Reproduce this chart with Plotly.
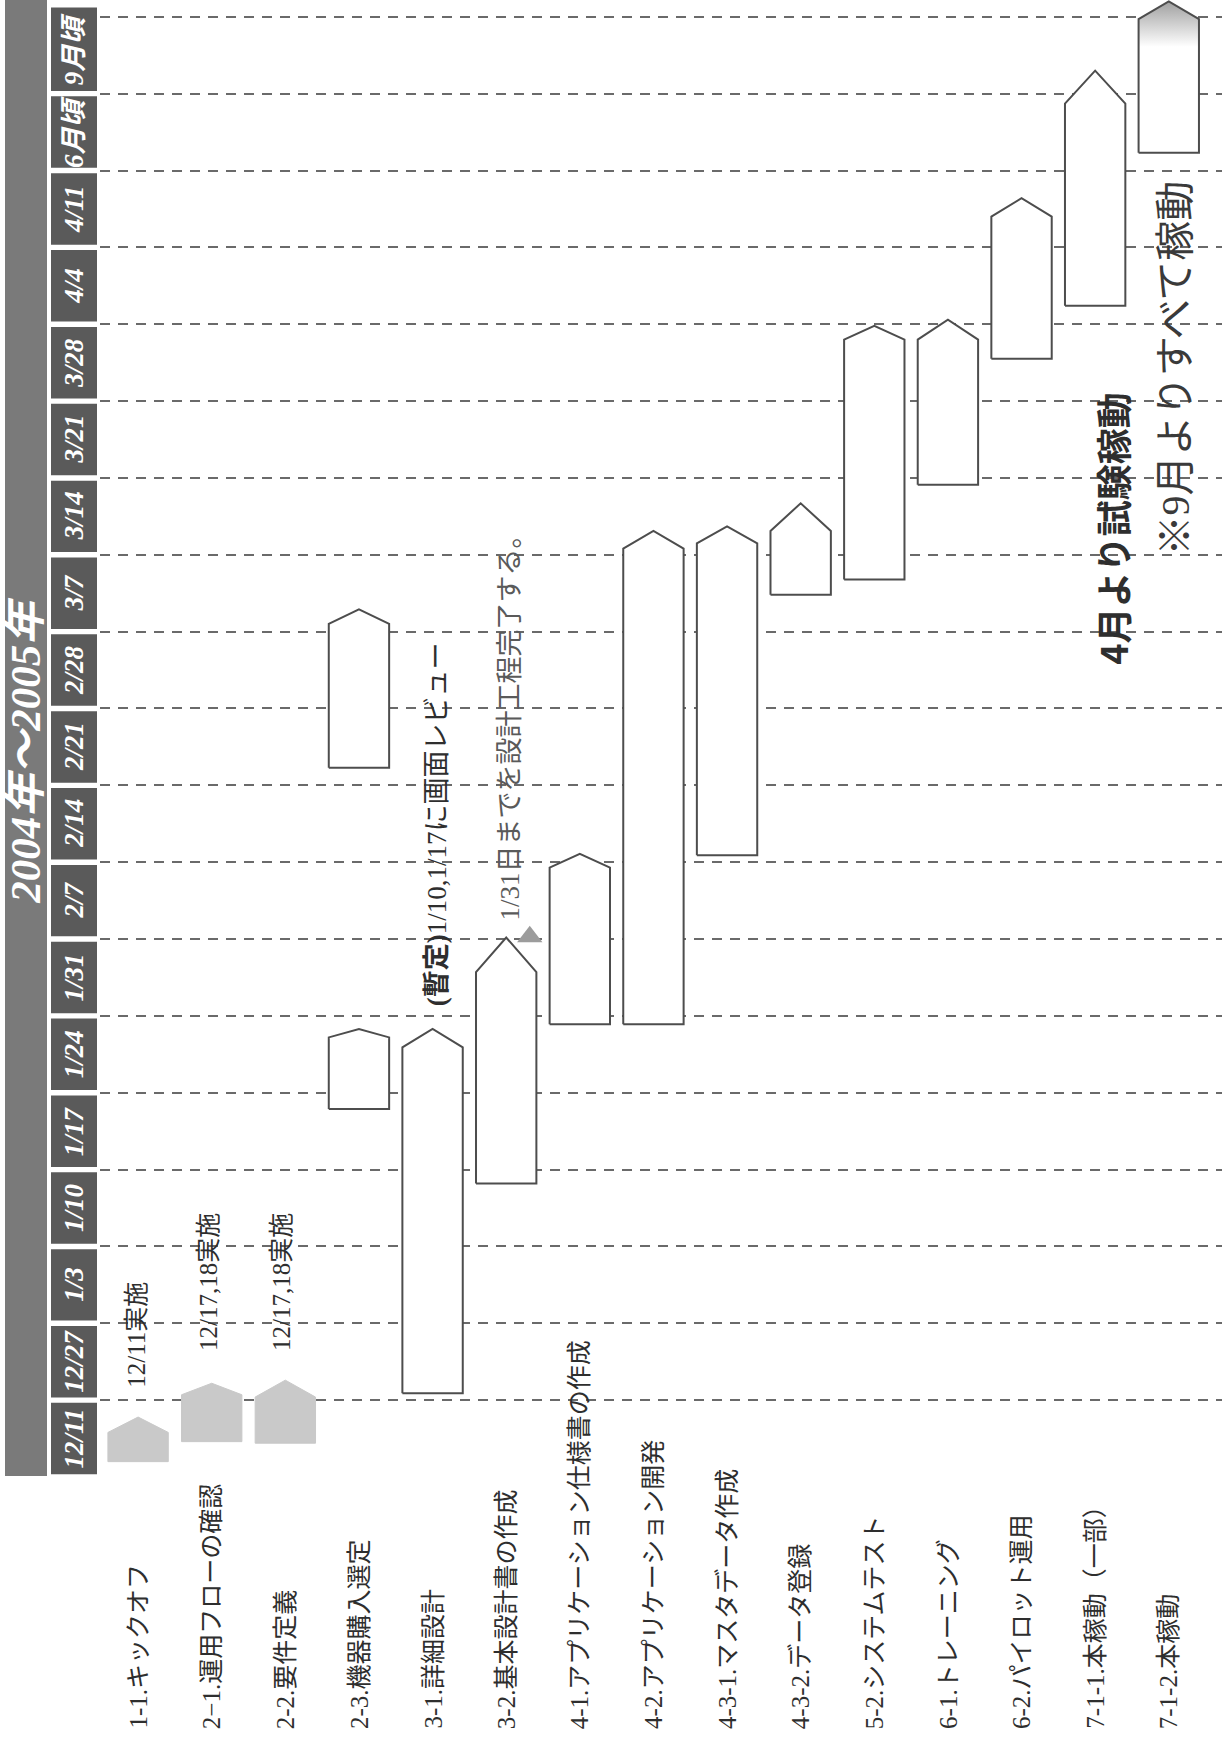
import plotly.graph_objects as go

# ---------------- data ----------------
slot_labels = ["12/11", "12/27", "1/3", "1/10", "1/17", "1/24", "1/31", "2/7", "2/14",
               "2/21", "2/28", "3/7", "3/14", "3/21", "3/28", "4/4", "4/11", "6月頃", "9月頃"]

task_labels = ["1-1.キックオフ", "2−1.運用フローの確認", "2-2.要件定義", "2-3.機器購入選定",
               "3-1.詳細設計", "3-2.基本設計書の作成", "4-1.アプリケーション仕様書の作成",
               "4-2.アプリケーション開発", "4-3-1.マスタデータ作成", "4-3-2.データ登録",
               "5-2.システムテスト", "6-1.トレーニング", "6-2.パイロット運用",
               "7-1-1.本稼動（一部）", "7-1-2.本稼動"]

# bars: task index, start slot, end slot (tip), roof depth, kind
bar_task = [0, 1, 2, 3, 3, 4, 5, 6, 7, 8, 9, 10, 11, 12, 13, 14]
bar_start = [0.20, 0.46, 0.44, 4.79, 9.23, 1.09, 3.82, 5.89, 5.89, 8.09, 11.48, 11.68, 12.91, 14.55, 15.24, 17.23]
bar_end = [0.78, 1.22, 1.26, 5.83, 11.29, 5.83, 7.02, 8.11, 12.31, 12.37, 12.67, 14.98, 15.06, 16.64, 18.30, 19.20]
bar_roof = [0.20, 0.15, 0.22, 0.11, 0.19, 0.24, 0.45, 0.18, 0.23, 0.22, 0.36, 0.18, 0.26, 0.24, 0.43, 0.23]
bar_kind = ["done", "done", "done", "plan", "plan", "plan", "plan", "plan", "plan", "plan",
            "plan", "plan", "plan", "plan", "plan", "final"]

title_text = "2004年～2005年"

# notes: text, x (task units), y (slot units)
note_texts = ["12/11実施", "12/17,18実施", "12/17,18実施",
              "<b>(暫定)</b>1/10,1/17に画面レビュー", "1/31日までを設計工程完了する。"]
note_x = [-0.02, 0.96, 1.95, 4.06, 5.05]
note_y = [1.13, 1.61, 1.61, 6.10, 7.22]

milestone_x = [5.32]
milestone_y = [7.03]

remark_texts = ["4月より試験稼動", "※9月よりすべて稼動"]
remark_x = [13.23, 14.09]
remark_y = [12.34, 14.43]

# ---------------- figure ----------------
W, H = 1222, 1743
HW = 0.41
LINE = "#4d4d4d"
TEXT = "#2e2e2e"
SERIF_CJK = "Liberation Serif, Noto Sans CJK JP"

fig = go.Figure()

for t, s, e, r, k in zip(bar_task, bar_start, bar_end, bar_roof, bar_kind):
    xs = [t - HW, t - HW, t, t + HW, t + HW, t - HW]
    ys = [s, e - r, e, e - r, s, s]
    tr = dict(x=xs, y=ys, mode="lines", fill="toself", hoverinfo="skip", showlegend=False)
    if k == "done":
        tr.update(fillcolor="#c9c9c9", line=dict(color="#c9c9c9", width=1))
    elif k == "final":
        tr.update(line=dict(color=LINE, width=2),
                  fillgradient=dict(type="vertical",
                                    colorscale=[[0, "white"], [0.7, "white"], [1, "#a0a0a0"]]))
    else:
        tr.update(fillcolor="white", line=dict(color=LINE, width=2))
    fig.add_trace(go.Scatter(**tr))

fig.add_trace(go.Scatter(x=milestone_x, y=milestone_y, mode="markers", showlegend=False,
                         hoverinfo="skip",
                         marker=dict(symbol="triangle-up", size=22, color="#9c9c9c")))

shapes = []
ann = []

# title band
shapes.append(dict(type="rect", xref="paper", yref="paper", x0=5 / W, x1=47 / W,
                   y0=(H - 1476) / H, y1=1, fillcolor="#7a7a7a", line=dict(width=0), layer="below"))
ann.append(dict(text=title_text, xref="paper", yref="y", x=26 / W, y=9.45, textangle=-90,
                showarrow=False, xanchor="center", yanchor="middle",
                font=dict(family=SERIF_CJK, size=43, color="white", weight="bold", style="italic")))

# date cells
for i, lab in enumerate(slot_labels):
    y0 = i + 0.035
    y1 = i + 1 - 0.035 if i < len(slot_labels) - 1 else 19.12
    shapes.append(dict(type="rect", xref="paper", yref="y", x0=51 / W, x1=97 / W,
                       y0=y0, y1=y1, fillcolor="#5a5a5a", line=dict(width=0), layer="below"))
    ann.append(dict(text=lab, xref="paper", yref="y", x=74 / W, y=(y0 + y1) / 2, textangle=-90,
                    showarrow=False, xanchor="center", yanchor="middle",
                    font=dict(family=SERIF_CJK, size=27, color="white", weight="bold", style="italic")))

# task labels
for i, lab in enumerate(task_labels):
    ann.append(dict(text=lab, xref="x", yref="paper", x=i, y=(H - 1731) / H, textangle=-90,
                    showarrow=False, xanchor="center", yanchor="bottom",
                    font=dict(family=SERIF_CJK, size=25, color=TEXT)))

# notes
for j, (t, x, y) in enumerate(zip(note_texts, note_x, note_y)):
    col = "#5a5a5a" if j == 4 else TEXT
    size = 27 if j == 4 else (27 if j == 3 else 25)
    ann.append(dict(text=t, xref="x", yref="y", x=x, y=y, textangle=-90, showarrow=False,
                    xanchor="center", yanchor="bottom",
                    font=dict(family=SERIF_CJK, size=size, color=col)))

# remarks
ann.append(dict(text=remark_texts[0], xref="x", yref="y", x=remark_x[0], y=remark_y[0], textangle=-90,
                showarrow=False, xanchor="center", yanchor="middle",
                font=dict(family="Noto Sans CJK JP", size=36, color=TEXT, weight="bold")))
ann.append(dict(text=remark_texts[1], xref="x", yref="y", x=remark_x[1], y=remark_y[1], textangle=-90,
                showarrow=False, xanchor="center", yanchor="middle",
                font=dict(family=SERIF_CJK, size=40, color="#3a3a3a")))

fig.update_layout(
    width=W, height=H, margin=dict(l=0, r=0, t=0, b=0),
    paper_bgcolor="white", plot_bgcolor="white",
    shapes=shapes, annotations=ann, showlegend=False,
    xaxis=dict(range=[-0.5175, 14.723], domain=[100 / W, 1], showgrid=False, zeroline=False,
               showticklabels=False, showline=False, ticks=""),
    yaxis=dict(range=[0, 19.219], domain=[(H - 1477) / H, 1], showgrid=True, tick0=0, dtick=1,
               gridcolor="#6a6a6a", gridwidth=2, griddash="10px,8px", zeroline=False,
               showticklabels=False, showline=False, ticks=""),
)

fig.write_html("out.html")
